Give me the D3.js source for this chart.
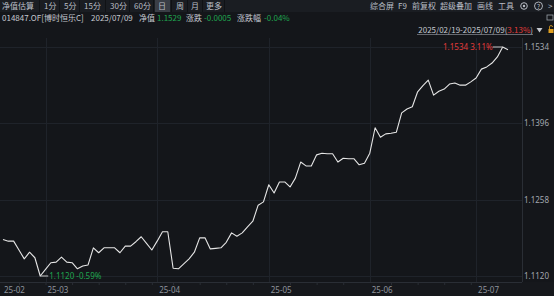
<!DOCTYPE html>
<html><head><meta charset="utf-8">
<script src="https://cdn.jsdelivr.net/npm/d3@7"></script>
<style>
html,body{margin:0;padding:0;background:#14161a;overflow:hidden;}
svg{display:block;font-family:"Noto Sans CJK SC","Noto Sans",sans-serif;}
</style></head>
<body><svg id="c" width="554" height="296"></svg>
<script>
const dates = [
"2025-02-19","2025-02-20","2025-02-21","2025-02-24","2025-02-25","2025-02-26","2025-02-27","2025-02-28",
"2025-03-03","2025-03-04","2025-03-05","2025-03-06","2025-03-07","2025-03-10","2025-03-11","2025-03-12","2025-03-13","2025-03-14",
"2025-03-17","2025-03-18","2025-03-19","2025-03-20","2025-03-21","2025-03-24","2025-03-25","2025-03-26","2025-03-27","2025-03-28","2025-03-31",
"2025-04-01","2025-04-02","2025-04-03","2025-04-07","2025-04-08","2025-04-09","2025-04-10","2025-04-11","2025-04-14","2025-04-15",
"2025-04-16","2025-04-17","2025-04-18","2025-04-21","2025-04-22","2025-04-23","2025-04-24","2025-04-25","2025-04-28","2025-04-29","2025-04-30",
"2025-05-06","2025-05-07","2025-05-08","2025-05-09","2025-05-12","2025-05-13","2025-05-14","2025-05-15","2025-05-16","2025-05-19",
"2025-05-20","2025-05-21","2025-05-22","2025-05-23","2025-05-26","2025-05-27","2025-05-28","2025-05-29","2025-05-30",
"2025-06-03","2025-06-04","2025-06-05","2025-06-06","2025-06-09","2025-06-10","2025-06-11","2025-06-12","2025-06-13","2025-06-16",
"2025-06-17","2025-06-18","2025-06-19","2025-06-20","2025-06-23","2025-06-24","2025-06-25","2025-06-26","2025-06-27","2025-06-30",
"2025-07-01","2025-07-02","2025-07-03","2025-07-04","2025-07-07","2025-07-08","2025-07-09"];
const nav = [
1.1186,1.1183,1.1183,1.1167,1.1151,1.1163,1.1153,1.1120,
1.1132,1.1144,1.1145,1.1154,1.1145,1.1144,1.1133,1.1138,1.1140,1.1171,
1.1162,1.1171,1.1171,1.1171,1.1162,1.1174,1.1174,1.1182,1.1191,1.1179,1.1167,
1.1183,1.1200,1.1200,1.1134,1.1133,1.1142,1.1151,1.1163,1.1189,1.1189,
1.1169,1.1170,1.1171,1.1181,1.1198,1.1192,1.1198,1.1209,1.1219,1.1248,1.1254,
1.1285,1.1270,1.1290,1.1290,1.1281,1.1297,1.1326,1.1319,1.1319,1.1339,
1.1342,1.1341,1.1341,1.1326,1.1333,1.1332,1.1332,1.1321,1.1324,
1.1342,1.1388,1.1371,1.1377,1.1378,1.1380,1.1415,1.1422,1.1426,1.1453,
1.1464,1.1474,1.1447,1.1454,1.1458,1.1467,1.1469,1.1465,1.1465,1.1471,
1.1478,1.1494,1.1498,1.1505,1.1516,1.1534,1.1529];
const yTicks = [1.1120, 1.1258, 1.1396, 1.1534];
const monthTicks = ["2025-02-19","2025-03-03","2025-04-01","2025-05-06","2025-06-03","2025-07-01"];
const monthLabels = ["25-02","25-03","25-04","25-05","25-06","25-07"];
const toolbarLeft = ["净值估算","1分","5分","15分","30分","60分","日","周","月","更多"];
const toolbarRight = ["综合屏","F9","前复权","超级叠加","画线","工具"];

const svg = d3.select("#c");
const W = 554, H = 296, FS = 8;
const x = d3.scalePoint().domain(dates).range([3, 508]);
const y = d3.scaleLinear().domain([1.1120, 1.1534]).range([276, 47]);
const axisX = 522, axisY = 282;

svg.append("rect").attr("width", W).attr("height", H).attr("fill", "#14161a");
svg.append("rect").attr("x",0).attr("y",0).attr("width",W).attr("height",12).attr("fill","#1a1d22");
svg.append("rect").attr("x",0).attr("y",axisY).attr("width",W).attr("height",H-axisY).attr("fill","#16181c");

// toolbar left
const tlX = [2,44,64,84,110,134,158,176,191,206];
const tl = svg.append("g").attr("font-size",FS).attr("fill","#b9bdc5");
tl.append("rect").attr("x",155).attr("y",0).attr("width",15).attr("height",12).attr("fill","#3a3e46");
toolbarLeft.forEach((t,i)=>tl.append("text").attr("x",tlX[i]).attr("y",9).text(t));
[39,59,79,105,129,153,171,187,202,224].forEach(v=>{
  svg.append("line").attr("x1",v+0.5).attr("x2",v+0.5).attr("y1",0).attr("y2",12).attr("stroke","#101215");
});
// toolbar right
const trX = [370,398,412,440,477,498];
const tr = svg.append("g").attr("font-size",FS).attr("fill","#b9bdc5");
toolbarRight.forEach((t,i)=>tr.append("text").attr("x",trX[i]).attr("y",9).text(t));
tr.append("circle").attr("cx",524).attr("cy",6).attr("r",3.3).attr("fill","none").attr("stroke","#b9bdc5").attr("stroke-width",1);
tr.append("circle").attr("cx",524).attr("cy",6).attr("r",1.2).attr("fill","#b9bdc5");
tr.append("circle").attr("cx",538.5).attr("cy",6).attr("r",4).attr("fill","none").attr("stroke","#b9bdc5").attr("stroke-width",0.9);
tr.append("text").attr("x",538.5).attr("y",8.5).attr("font-size",6.5).attr("text-anchor","middle").text("?");
tr.append("text").attr("x",548).attr("y",9).text(">");
svg.append("rect").attr("x",547).attr("y",15).attr("width",6).attr("height",5).attr("fill","none").attr("stroke","#9aa0a8").attr("stroke-width",0.8);

// info row
const info = svg.append("g").attr("font-size",FS);
info.append("text").attr("x",2).attr("y",20.5).attr("fill","#c4c8cf").text("014847.OF[博时恒乐C]");
info.append("text").attr("x",91).attr("y",20.5).attr("fill","#c4c8cf").text("2025/07/09");
info.append("text").attr("x",139).attr("y",20.5).attr("fill","#c4c8cf").text("净值");
info.append("text").attr("x",157).attr("y",20.5).attr("fill","#1fa54f").text("1.1529");
info.append("text").attr("x",186).attr("y",20.5).attr("fill","#c4c8cf").text("涨跌");
info.append("text").attr("x",204).attr("y",20.5).attr("fill","#1fa54f").text("-0.0005");
info.append("text").attr("x",237).attr("y",20.5).attr("fill","#c4c8cf").text("涨跌幅");
info.append("text").attr("x",264).attr("y",20.5).attr("fill","#1fa54f").text("-0.04%");

// range text
const rt = svg.append("text").attr("x",533).attr("y",33).attr("font-size",FS).attr("text-anchor","end").attr("fill","#c4c8cf");
rt.append("tspan").text("2025/02/19-2025/07/09(");
rt.append("tspan").attr("fill","#e23b3b").text("3.13%");
rt.append("tspan").text(")");
svg.append("line").attr("x1",417).attr("x2",533).attr("y1",34.5).attr("y2",34.5).attr("stroke","#8a8e96").attr("stroke-width",0.7);
svg.append("path").attr("d","M536.5,28 L542.5,28 L539.5,32.5 Z").attr("fill","#c4c8cf");
svg.append("rect").attr("x",548.5).attr("y",29).attr("width",5).attr("height",4).attr("fill","#e0a020");
svg.append("path").attr("d","M549.5,29 V27 A1.5,1.5 0 0 1 552.5,27").attr("fill","none").attr("stroke","#e0a020").attr("stroke-width",0.8);

// grid
const grid = svg.append("g").attr("stroke","#1f232a").attr("stroke-width",1);
yTicks.forEach(v=>grid.append("line").attr("x1",0).attr("x2",axisX).attr("y1",Math.round(y(v))+0.5).attr("y2",Math.round(y(v))+0.5));
monthTicks.slice(1).forEach(d=>grid.append("line").attr("x1",Math.round(x(d))+0.5).attr("x2",Math.round(x(d))+0.5).attr("y1",38).attr("y2",axisY));

// right axis
const ra = svg.append("g").attr("transform",`translate(${axisX},0)`)
  .call(d3.axisRight(y).tickValues(yTicks).tickFormat(d3.format(".4f")).tickSize(0).tickPadding(2));
ra.select(".domain").remove();
ra.selectAll("text").attr("fill","#a3a7af").attr("font-size",FS).attr("font-family","'Noto Sans','Noto Sans CJK SC',sans-serif");
svg.append("line").attr("x1",axisX+0.5).attr("x2",axisX+0.5).attr("y1",38).attr("y2",axisY).attr("stroke","#2a2e35");

// bottom axis
const weekTicks = dates.filter((d,i)=>i>0 && new Date(d).getDay()===1);
const ba = svg.append("g").attr("transform",`translate(0,${axisY})`)
  .call(d3.axisBottom(x).tickValues(weekTicks).tickSize(3).tickFormat(""));
ba.select(".domain").attr("stroke","#2a2e35").attr("d",`M0,0.5H${axisX}`);
ba.selectAll(".tick line").attr("stroke","#2a2e35");
const bl = svg.append("g").attr("font-size",FS).attr("fill","#8f949c").attr("font-family","'Noto Sans',sans-serif");
monthTicks.forEach((d,i)=>bl.append("text").attr("x",x(d)+(i===0?1:2)).attr("y",292.5).text(monthLabels[i]));

// line
const line = d3.line().x((d,i)=>x(dates[i])).y(d=>y(d));
svg.append("path").datum(nav).attr("d",line).attr("fill","none").attr("stroke","#e6e6e6").attr("stroke-width",1.1).attr("stroke-linejoin","round");

// min / max annotations
const iMax = nav.indexOf(d3.max(nav)), iMin = nav.indexOf(d3.min(nav));
const first = nav[0];
const fmtPct = v=>(v*100).toFixed(2)+"%";
svg.append("line").attr("x1",x(dates[iMax])).attr("x2",x(dates[iMax])-10).attr("y1",y(nav[iMax])).attr("y2",y(nav[iMax])).attr("stroke","#c8c8c8");
svg.append("text").attr("x",x(dates[iMax])-10).attr("y",y(nav[iMax])+3).attr("text-anchor","end").attr("font-size",FS).attr("fill","#e23b3b")
  .attr("font-family","'Noto Sans',sans-serif").text(d3.max(nav).toFixed(4)+" "+fmtPct(d3.max(nav)/first-1));
svg.append("line").attr("x1",x(dates[iMin])).attr("x2",x(dates[iMin])+8).attr("y1",y(nav[iMin])).attr("y2",y(nav[iMin])).attr("stroke","#c8c8c8");
svg.append("text").attr("x",x(dates[iMin])+9).attr("y",y(nav[iMin])+3).attr("font-size",FS).attr("fill","#1fa54f")
  .attr("font-family","'Noto Sans',sans-serif").text(d3.min(nav).toFixed(4)+" "+fmtPct(d3.min(nav)/first-1));
</script></body></html>
